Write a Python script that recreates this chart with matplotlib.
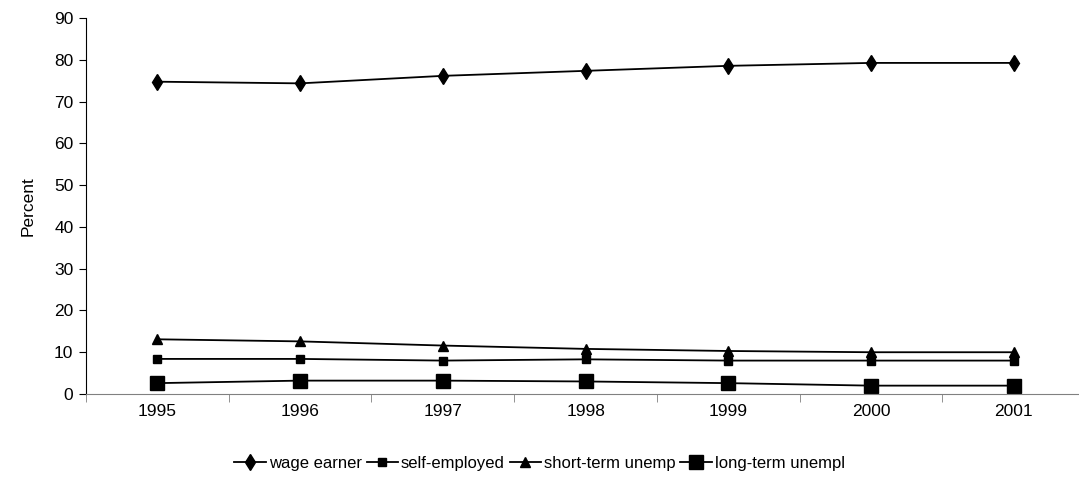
import matplotlib.pyplot as plt
import numpy as np

plt.rcParams['font.family'] = ['Liberation Sans', 'DejaVu Sans']

years = ['1995', '1996', '1997', '1998', '1999', '2000', '2001']
wage_earner = [74.8, 74.4, 76.2, 77.4, 78.6, 79.3, 79.3]
self_employed = [8.4, 8.4, 8.0, 8.3, 8.0, 8.0, 8.0]
short_term_unemp = [13.1, 12.6, 11.6, 10.8, 10.3, 10.0, 10.0]
long_term_unempl = [2.6, 3.2, 3.2, 3.0, 2.6, 2.0, 2.0]


def main():
    fig = plt.figure(figsize=(10.79, 5.01), dpi=100)
    ax = fig.add_axes([0.0797, 0.2136, 0.926, 0.750])
    x = np.arange(len(years))

    ax.plot(x, wage_earner, color='black', lw=1.3, marker='d', ms=8,
            label='wage earner')
    ax.plot(x, self_employed, color='black', lw=1.3, marker='s', ms=5.5,
            label='self-employed')
    ax.plot(x, short_term_unemp, color='black', lw=1.3, marker='^', ms=7,
            label='short-term unemp')
    ax.plot(x, long_term_unempl, color='black', lw=1.3, marker='s', ms=10,
            label='long-term unempl')

    ax.set_xlim(-0.5, len(years) - 0.5)
    ax.set_ylim(0, 90)
    ax.set_yticks(range(0, 91, 10))
    ax.set_xticks(x)
    ax.set_xticklabels(years)
    ax.set_xticks(np.arange(-0.5, len(years), 1), minor=True)
    ax.tick_params(axis='x', which='major', length=0, pad=7, labelsize=12.5)
    ax.tick_params(axis='x', which='minor', length=6, direction='out', color='#808080')
    ax.tick_params(axis='y', length=5, direction='out', labelsize=12.5, pad=4)
    ax.set_ylabel('Percent', fontsize=12.5, labelpad=13)

    for s in ['top', 'right']:
        ax.spines[s].set_visible(False)
    ax.spines['bottom'].set_color('#808080')

    fig.legend(loc='center', bbox_to_anchor=(0.5, 0.075), ncol=4, frameon=False,
               fontsize=12, handlelength=1.9, handletextpad=0.15, columnspacing=0.3)

    fig.savefig('out.png', dpi=100)


if __name__ == '__main__':
    main()
